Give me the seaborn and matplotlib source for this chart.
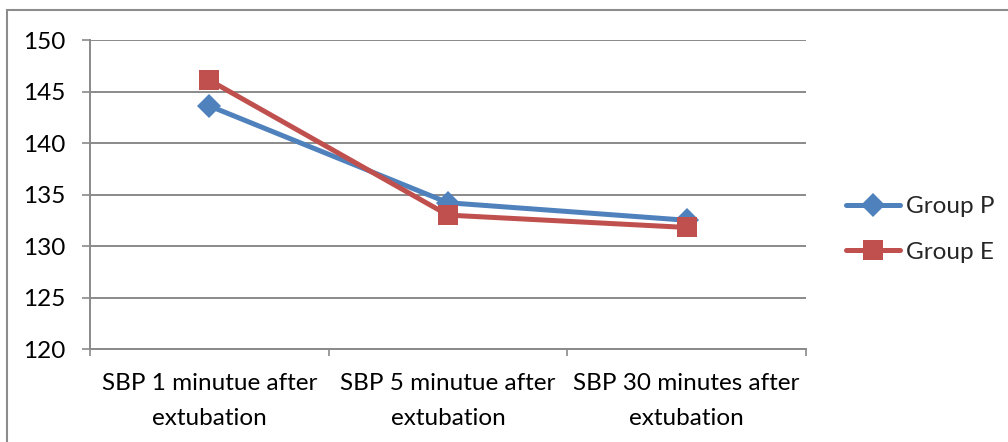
import matplotlib
matplotlib.use("Agg")
import matplotlib.pyplot as plt
from matplotlib.patches import Rectangle
import pandas as pd
import seaborn as sns

# Systolic blood pressure after extubation, by group
categories = ["SBP 1 minutue after\nextubation",
              "SBP 5 minutue after\nextubation",
              "SBP 30 minutes after\nextubation"]
group_p = [143.6, 134.2, 132.5]
group_e = [146.1, 133.0, 131.8]
group_names = ["Group P", "Group E"]
y_ticks = [120, 125, 130, 135, 140, 145, 150]

df = pd.DataFrame({
    "time": categories * 2,
    "sbp": group_p + group_e,
    "group": [group_names[0]] * 3 + [group_names[1]] * 3,
})

sns.set_theme(style="white")
plt.rcParams["font.family"] = ["Lato", "DejaVu Sans"]

palette = {"Group P": "#4F81BD", "Group E": "#C0504D"}
markers = {"Group P": "D", "Group E": "s"}
fs = 17.5

fig = plt.figure(figsize=(10.08, 4.42), dpi=100)
ax = fig.add_axes([0.0893, 0.2104, 0.7103, 0.6991])

sns.lineplot(data=df, x="time", y="sbp", hue="group", style="group",
             palette=palette, markers=markers, dashes=False, sort=False,
             linewidth=3.6, markersize=14, markeredgewidth=0, ax=ax)

# diamonds read larger than squares at equal size; shrink them a little
for ln in ax.lines:
    if ln.get_marker() == "D":
        ln.set_markersize(12)

ax.set_xlim(-0.5, 2.5)
ax.set_ylim(120, 150)
ax.set_yticks(y_ticks)
ax.set_xlabel("")
ax.set_ylabel("")

grid_c = "#8a8a8a"
ax.yaxis.grid(True, color=grid_c, linewidth=1.4)
ax.xaxis.grid(False)
ax.set_axisbelow(True)
for side in ("top", "right"):
    ax.spines[side].set_visible(False)
for side in ("left", "bottom"):
    ax.spines[side].set_color(grid_c)
    ax.spines[side].set_linewidth(1.4)

ax.tick_params(axis="y", which="major", direction="out", length=6, width=1.2,
               color=grid_c, left=True, pad=12, labelsize=fs, labelcolor="black")
ax.tick_params(axis="x", which="major", length=0, pad=17, labelsize=fs,
               labelcolor="black")
ax.set_xticks([-0.5, 0.5, 1.5, 2.5], minor=True)
ax.tick_params(axis="x", which="minor", direction="out", length=5, width=1.2,
               color=grid_c, bottom=True)
for lbl in ax.get_xticklabels():
    lbl.set_linespacing(1.85)

handles, labels = ax.get_legend_handles_labels()
for h in handles:
    if h.get_marker() == "D":
        h.set_markersize(12)
ax.legend(handles, labels, loc="center left", bbox_to_anchor=(0.830, 0.481),
          bbox_transform=fig.transFigure, frameon=False, fontsize=fs,
          handlelength=2.2, handletextpad=0.25, labelspacing=1.0,
          borderaxespad=0)

fig.patches.append(Rectangle((7 / 1008, -0.05), 1.2, 1 - 10 / 442 + 0.05,
                             transform=fig.transFigure, fill=False,
                             edgecolor="#8c8c8c", linewidth=1.5))

fig.savefig("out.png", dpi=100)
